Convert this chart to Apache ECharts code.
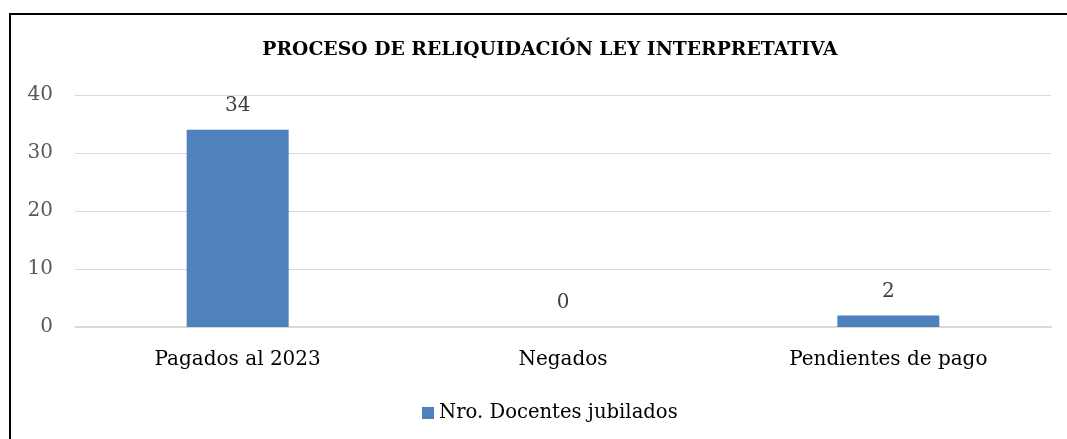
<!DOCTYPE html>
<html>
<head>
<meta charset="utf-8">
<script src="https://cdn.jsdelivr.net/npm/echarts@6/dist/echarts.min.js"></script>
<style>
  html, body { margin: 0; padding: 0; background: #fff; overflow: hidden; }
  #frame {
    position: absolute; left: 9px; top: 13px; width: 1100px; height: 460px;
    border-left: 2px solid #000; border-top: 2px solid #000; box-sizing: border-box;
  }
  #chart { position: absolute; left: 0; top: 0; width: 1067px; height: 439px; }
</style>
</head>
<body>
<div id="frame"></div>
<div id="chart"></div>
<script>
const categories = ["Pagados al 2023", "Negados", "Pendientes de pago"];
const docentes = [34, 0, 2];
const seriesName = "Nro. Docentes jubilados";
const titleText = "PROCESO DE RELIQUIDACIÓN LEY INTERPRETATIVA";

const serif = "'DejaVu Serif', serif";
const chart = echarts.init(document.getElementById("chart"));
chart.setOption({
  animation: false,
  title: {
    text: titleText,
    left: 545, top: 36, textAlign: "center",
    textStyle: { fontFamily: serif, fontWeight: "bold", fontSize: 18.8, color: "#000" }
  },
  legend: {
    data: [seriesName],
    top: 398, left: 417,
    icon: "rect", itemWidth: 12, itemHeight: 12, itemGap: 6,
    textStyle: { fontFamily: serif, fontSize: 19.6, color: "#000" }
  },
  grid: { left: 75, right: 16, top: 95, bottom: 112 },
  xAxis: {
    type: "category",
    data: categories,
    axisLine: { lineStyle: { color: "#d9d9d9", width: 2 } },
    axisTick: { show: false },
    axisLabel: { fontFamily: serif, fontSize: 20, color: "#000", margin: 23 }
  },
  yAxis: {
    type: "value",
    min: 0, max: 40, interval: 10,
    axisLine: { show: false },
    axisTick: { show: false },
    splitLine: { lineStyle: { color: "#d9d9d9", width: 1 } },
    axisLabel: { fontFamily: serif, fontSize: 20, color: "#595959", margin: 22 }
  },
  series: [{
    name: seriesName,
    type: "bar",
    data: docentes,
    barWidth: 102,
    itemStyle: { color: "#4f81bd" },
    label: {
      show: true, position: "top", distance: 14,
      fontFamily: serif, fontSize: 20, color: "#404040"
    }
  }]
});
</script>
</body>
</html>
